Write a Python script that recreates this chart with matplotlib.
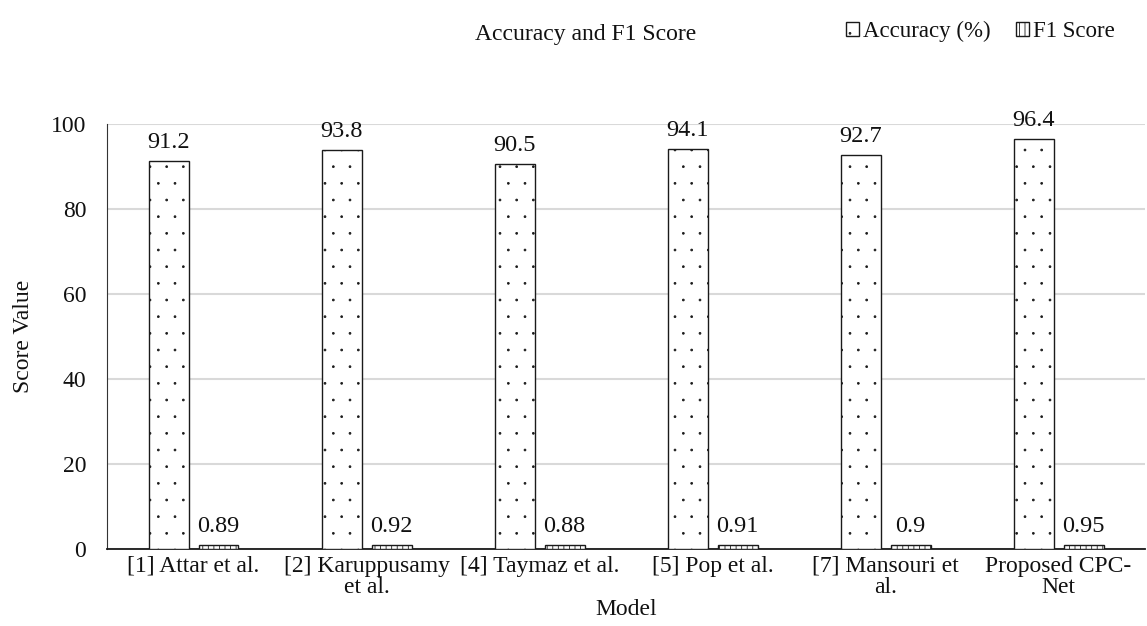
import matplotlib
matplotlib.use("Agg")
import matplotlib.pyplot as plt
import matplotlib.hatch as mhatch
import numpy as np

plt.rcParams['font.family'] = ['Liberation Serif', 'DejaVu Serif']
plt.rcParams['hatch.linewidth'] = 0.6
# finer dots for the '.' hatch
mhatch.SmallFilledCircles.size = 0.055

models = ["[1] Attar et al.", "[2] Karuppusamy\net al.", "[4] Taymaz et al.",
          "[5] Pop et al.", "[7] Mansouri et\nal.", "Proposed CPC-\nNet"]
accuracy = [91.2, 93.8, 90.5, 94.1, 92.7, 96.4]
f1_score = [0.89, 0.92, 0.88, 0.91, 0.9, 0.95]
acc_labels = ["91.2", "93.8", "90.5", "94.1", "92.7", "96.4"]
f1_labels = ["0.89", "0.92", "0.88", "0.91", "0.9", "0.95"]

FS = 17
INK = '#111111'

fig = plt.figure(figsize=(11.47, 6.26), dpi=100)
ax = fig.add_axes([0.0933, 0.123, 0.905, 0.679])

x = np.arange(len(models))
w = 0.231
gap = 0.058
b1 = ax.bar(x - (w + gap) / 2, accuracy, w, facecolor='white', edgecolor='#1a1a1a',
            linewidth=1.0, hatch='.', label='Accuracy (%)', zorder=3)
b2 = ax.bar(x + (w + gap) / 2, f1_score, w, facecolor='white', edgecolor='#1a1a1a',
            linewidth=1.0, hatch='|||', label='F1 Score', zorder=3)

for bars, labels in ((b1, acc_labels), (b2, f1_labels)):
    for rect, lab in zip(bars, labels):
        ax.annotate(lab, (rect.get_x() + rect.get_width() / 2, rect.get_height()),
                    xytext=(0, 6), textcoords='offset points', ha='center', va='bottom',
                    fontsize=17.5, color=INK)

ax.set_xlim(-0.5, len(models) - 0.5)
ax.set_ylim(0, 100)
ax.set_yticks(np.arange(0, 101, 20))
ax.set_xticks(x)
ax.set_xticklabels(models, fontsize=FS, color=INK, linespacing=1.0)
ax.tick_params(axis='y', labelsize=FS, length=0, pad=15, colors=INK)
ax.tick_params(axis='x', length=0, pad=5)
ax.grid(axis='y', color='#d9d9d9', linewidth=1.5, zorder=0)
ax.set_axisbelow(True)
for s in ['top', 'right']:
    ax.spines[s].set_visible(False)
ax.spines['left'].set_color('#333333')
ax.spines['bottom'].set_color('#1a1a1a')
ax.spines['bottom'].set_linewidth(1.3)

ax.set_xlabel('Model', fontsize=FS, color=INK, labelpad=1)
ax.set_ylabel('Score Value', fontsize=FS, color=INK, labelpad=12)

fig.text(0.511, 0.945, 'Accuracy and F1 Score', ha='center', va='center',
         fontsize=FS, color=INK)
leg = fig.legend(handles=[b1, b2], loc='center right', bbox_to_anchor=(0.972, 0.950),
                 ncol=2, frameon=False, fontsize=16.5, handlelength=0.57,
                 handleheight=0.57, handletextpad=0.17, columnspacing=1.1,
                 borderpad=0, borderaxespad=0)
for t in leg.get_texts():
    t.set_color(INK)

fig.savefig('out.png', dpi=100)
